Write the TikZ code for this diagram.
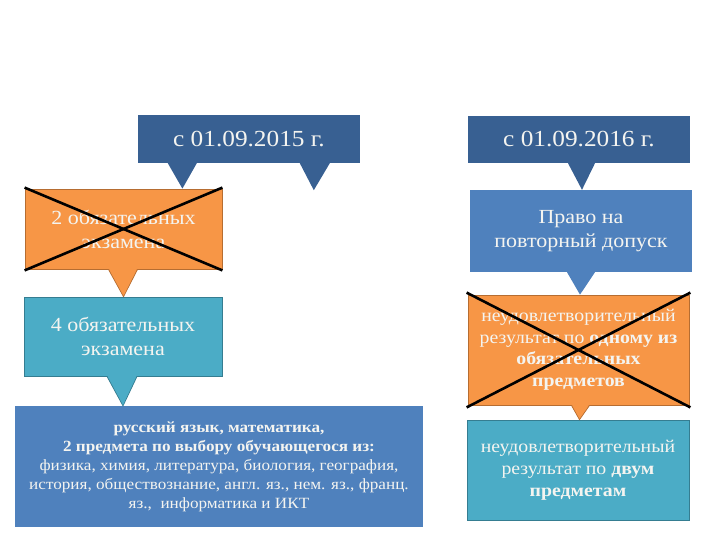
\documentclass[tikz,border=0pt]{standalone}
\usepackage{fontspec}
\setmainfont{Liberation Serif}[FakeStretch=1.1]
\usetikzlibrary{calc}
\definecolor{dkblue}{HTML}{386092}
\definecolor{mdblue}{HTML}{4F81BD}
\definecolor{orng}{HTML}{F79646}
\definecolor{orngb}{HTML}{B66D31}
\definecolor{teal1}{HTML}{4BACC6}
\definecolor{tealb}{HTML}{357D91}
\definecolor{txt}{HTML}{F4F4F0}
\tikzset{
  boxbase/.style={inner sep=0pt, align=center, text=txt},
  callout/.style={boxbase, fill=dkblue, font=\fontsize{23}{27}\selectfont},
  bluebox/.style={boxbase, fill=mdblue},
  orangebox/.style={boxbase, fill=orng, draw=orngb, line width=0.8pt},
  tealbox/.style={boxbase, fill=teal1, draw=tealb, line width=0.8pt},
  crossline/.style={black, line width=2.6pt},
}
\begin{document}
\begin{tikzpicture}[x=1pt,y=-1pt]
\useasboundingbox[fill=white] (0,0) rectangle (720,540);

% boxes
\node[callout, minimum width=222pt, minimum height=48pt] (c15) at (249,139) {с 01.09.2015 г.};
\node[callout, minimum width=222pt, minimum height=47pt] (c16) at (579,139.5) {с 01.09.2016 г.};

\node[orangebox, minimum width=197pt, minimum height=80pt, font=\fontsize{20}{24}\selectfont] (o1) at (123.5,229) {2 обязательных\\экзамена};
\node[tealbox, minimum width=198pt, minimum height=79pt, font=\fontsize{20}{24}\selectfont] (t1) at (123,336.5) {4 обязательных\\экзамена};
\node[bluebox, minimum width=408pt, minimum height=121pt, font=\fontsize{15.6}{19}\selectfont] (b1) at (219,466.5)
  {\textbf{русский язык, математика,}\\\textbf{2 предмета по выбору обучающегося из:}\\физика, химия, литература, биология, география,\\история, обществознание, англ. яз., нем. яз., франц.\\яз.,\ \ информатика и ИКТ};

\node[bluebox, minimum width=222pt, minimum height=82pt, font=\fontsize{20}{24}\selectfont] (p1) at (581,231) {Право на\\повторный допуск};
\node[orangebox, minimum width=221pt, minimum height=110pt, font=\fontsize{18}{21.5}\selectfont] (o2) at (578.5,350)
  {неудовлетворительный\\результат по \textbf{одному из}\\\textbf{обязательных}\\\textbf{предметов}};
\node[tealbox, minimum width=222pt, minimum height=100pt, font=\fontsize{18}{22}\selectfont] (t2) at (578,470)
  {неудовлетворительный\\результат по \textbf{двум}\\\textbf{предметам}};

% pointers
\fill[dkblue] ($(c15.south west)+(30,0)$) -- ($(c15.south west)+(59,0)$) -- ($(o1.north east)+(-40,0)$) -- cycle;
\coordinate (freetip) at ($(c15.south west)+(176,27)$);
\fill[dkblue] ($(c15.south west)+(162,0)$) -- ($(c15.south west)+(192,0)$) -- (freetip) -- cycle;
\fill[dkblue] ($(c16.south)+(-11,0)$) -- ($(c16.south)+(16,0)$) -- ($(p1.north)+(1,0)$) -- cycle;
\fill[mdblue] ($(p1.south)+(-14,0)$) -- ($(p1.south)+(14,0)$) -- ($(o2.north)+(1.5,0)$) -- cycle;
\filldraw[fill=orng, draw=orngb, line width=0.8pt] ($(o1.south)+(-15,0)$) -- ($(t1.north)+(0.5,0)$) -- ($(o1.south)+(14,0)$);
\fill[orng] ($(o1.south)+(-14.5,-1)$) -- ($(o1.south)+(13.5,-1)$) -- ($(t1.north)+(0.5,-1)$) -- cycle;
\filldraw[fill=teal1, draw=tealb, line width=0.8pt] ($(t1.south)+(-16,0)$) -- ($(b1.north -| t1.south)$) -- ($(t1.south)+(14,0)$);
\fill[teal1] ($(t1.south)+(-15.5,-1)$) -- ($(t1.south)+(13.5,-1)$) -- ($(b1.north -| t1.south)+(0,-1)$) -- cycle;
\filldraw[fill=orng, draw=orngb, line width=0.8pt] ($(o2.south)+(-7,0)$) -- ($(t2.north)+(1.5,0)$) -- ($(o2.south)+(11,0)$);
\fill[orng] ($(o2.south)+(-6.5,-1)$) -- ($(o2.south)+(10.5,-1)$) -- ($(t2.north)+(1.5,-1)$) -- cycle;

% crosses
\draw[crossline] ($(o1.north west)+(0,-1)$) -- ($(o1.south east)+(0,1)$);
\draw[crossline] ($(o1.south west)+(0,1)$) -- ($(o1.north east)+(0,-1)$);
\draw[crossline] ($(o2.north west)+(-1,-2)$) -- ($(o2.south east)+(1,2)$);
\draw[crossline] ($(o2.south west)+(-1,2)$) -- ($(o2.north east)+(1,-2)$);
\end{tikzpicture}
\end{document}
